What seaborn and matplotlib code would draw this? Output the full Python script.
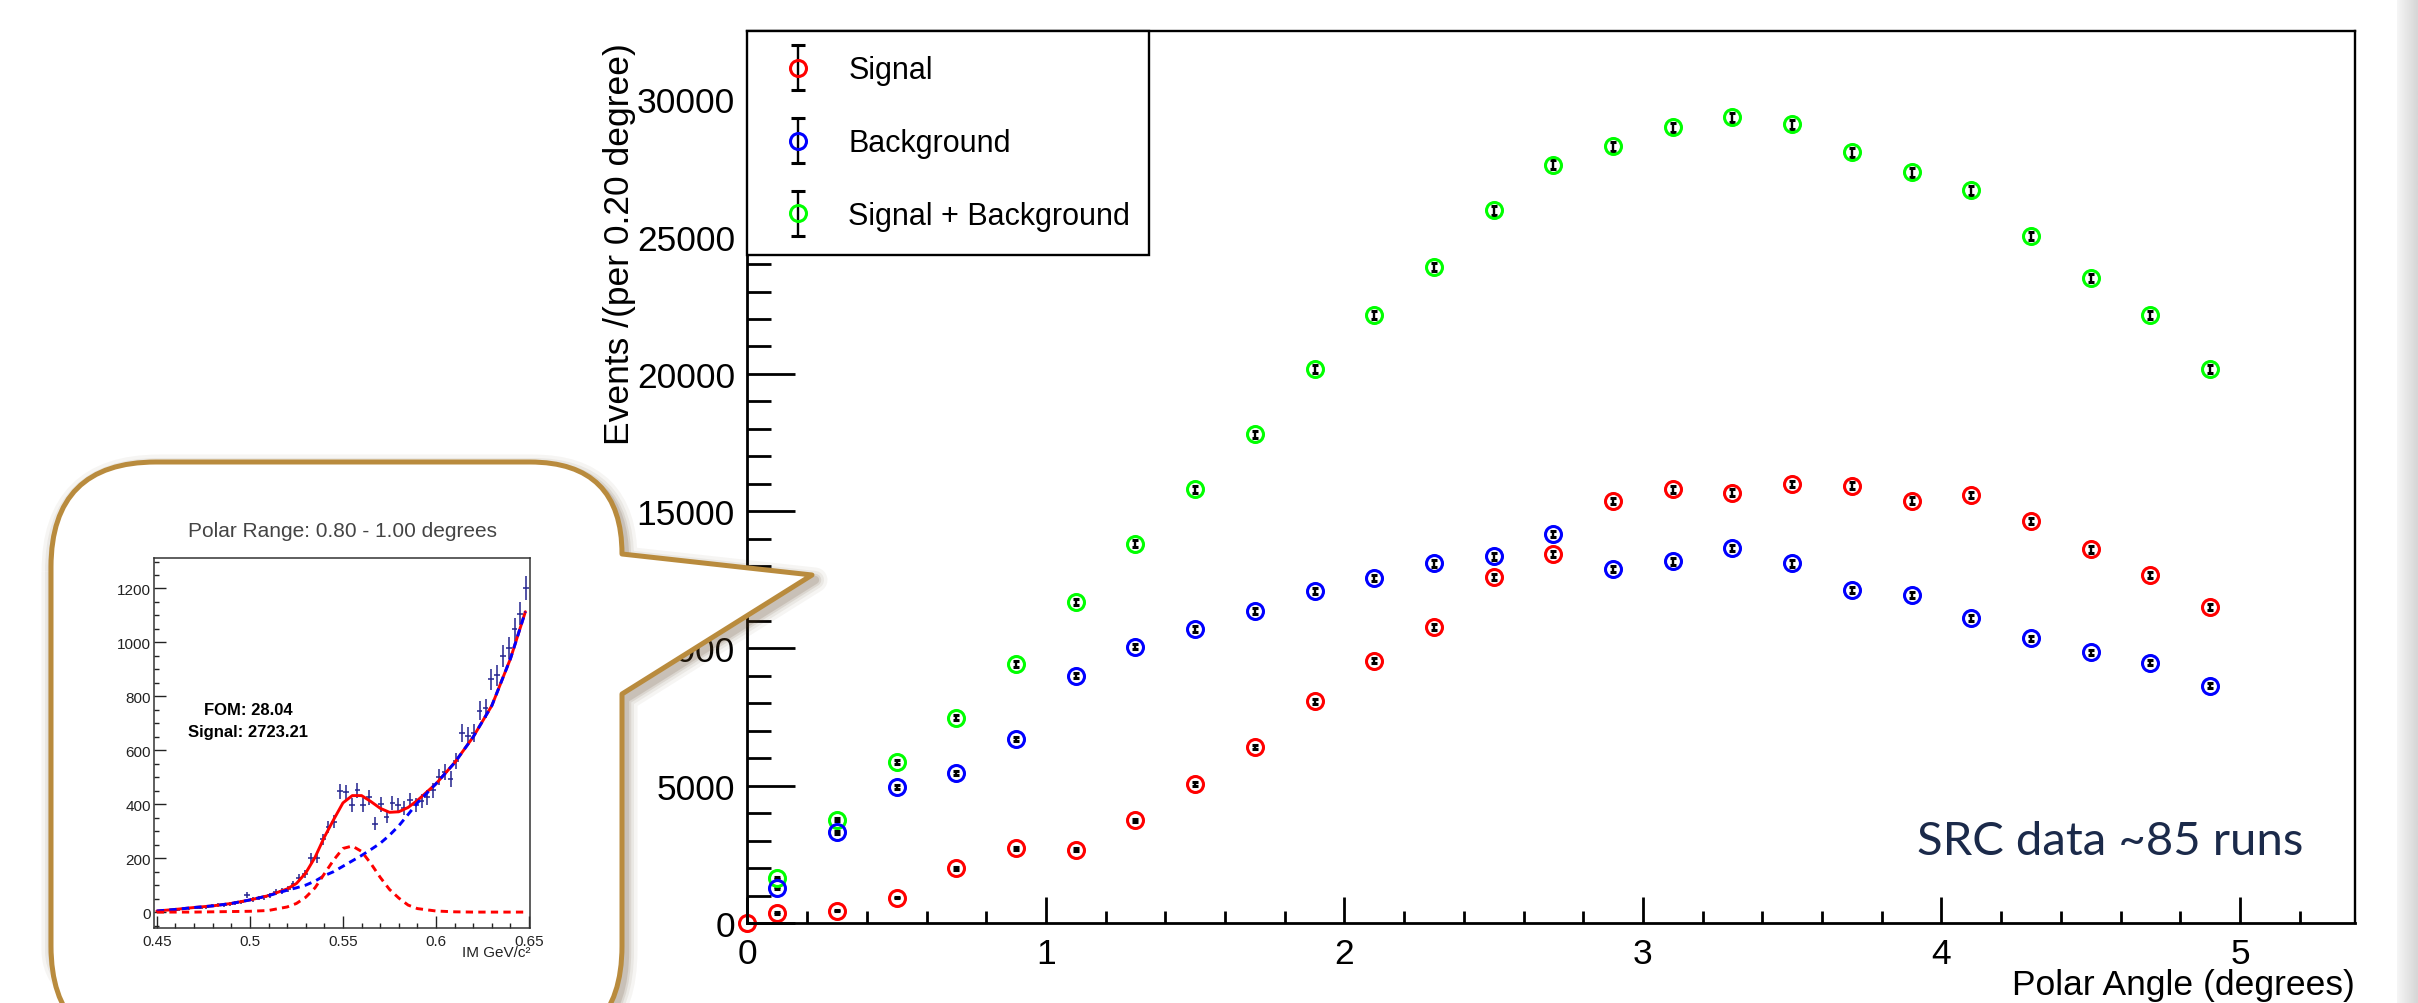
import numpy as np
import pandas as pd
import matplotlib
matplotlib.use("Agg")
import matplotlib.pyplot as plt
import seaborn as sns
from matplotlib.path import Path
from matplotlib.patches import PathPatch
from matplotlib.lines import Line2D
from matplotlib.container import ErrorbarContainer
from matplotlib.legend_handler import HandlerErrorbar
from matplotlib.ticker import MultipleLocator

# ---- main plot: yields per 0.2 degree polar-angle bin
sig_angle = [0.0, 0.1, 0.3, 0.5, 0.7, 0.9, 1.1, 1.3, 1.5, 1.7, 1.9, 2.1, 2.3,
             2.5, 2.7, 2.9, 3.1, 3.3, 3.5, 3.7, 3.9, 4.1, 4.3, 4.5, 4.7, 4.9]
sig_events = [0, 364, 449, 923, 1991, 2720, 2670, 3740, 5074, 6410, 8073, 9554, 10780,
              12589, 13439, 15370, 15793, 15680, 15989, 15927, 15380, 15588, 14641,
              13609, 12663, 11520]
sig_err = [0, 19, 21, 30, 45, 52, 52, 61, 71, 80, 90, 98, 104,
           112, 116, 124, 126, 125, 126, 126, 124, 125, 121, 117, 113, 107]

bkg_angle = [0.1, 0.3, 0.5, 0.7, 0.9, 1.1, 1.3, 1.5, 1.7, 1.9, 2.1, 2.3,
             2.5, 2.7, 2.9, 3.1, 3.3, 3.5, 3.7, 3.9, 4.1, 4.3, 4.5, 4.7, 4.9]
bkg_events = [1263, 3302, 4953, 5475, 6701, 9007, 10064, 10707, 11374, 12078, 12577, 13099,
              13354, 14167, 12893, 13170, 13669, 13099, 12128, 11946, 11096, 10368, 9858,
              9481, 8644]
bkg_err = [36, 57, 70, 74, 82, 95, 100, 103, 107, 110, 112, 114,
           116, 119, 114, 115, 117, 114, 110, 109, 105, 102, 99, 97, 93]

sum_angle = [0.1, 0.3, 0.5, 0.7, 0.9, 1.1, 1.3, 1.5, 1.7, 1.9, 2.1, 2.3,
             2.5, 2.7, 2.9, 3.1, 3.3, 3.5, 3.7, 3.9, 4.1, 4.3, 4.5, 4.7, 4.9]
sum_events = [1639, 3763, 5875, 7478, 9433, 11702, 13815, 15793, 17798, 20177, 22154, 23892,
              25955, 27617, 28297, 28977, 29342, 29096, 28066, 27350, 26696, 25021, 23491,
              22154, 20177]
sum_err = [40, 61, 77, 86, 97, 108, 118, 126, 133, 142, 149, 155,
           161, 166, 168, 170, 171, 171, 168, 165, 163, 158, 153, 149, 142]

# ---- inset: invariant mass spectrum for 0.80 - 1.00 degrees
im_center = [0.4516, 0.4547, 0.4578, 0.4609, 0.4641, 0.4672, 0.4703, 0.4734, 0.4766, 0.4797,
             0.4828, 0.4859, 0.4891, 0.4922, 0.4953, 0.4984, 0.5016, 0.5047, 0.5078, 0.5109,
             0.5141, 0.5172, 0.5203, 0.5234, 0.5266, 0.5297, 0.5328, 0.5359, 0.5391, 0.5422,
             0.5453, 0.5484, 0.5516, 0.5547, 0.5578, 0.5609, 0.5641, 0.5672, 0.5703, 0.5734,
             0.5766, 0.5797, 0.5828, 0.5859, 0.5891, 0.5922, 0.5953, 0.5984, 0.6016, 0.6047,
             0.6078, 0.6109, 0.6141, 0.6172, 0.6203, 0.6234, 0.6266, 0.6297, 0.6328, 0.6359,
             0.6391, 0.6422, 0.6453, 0.6484]
im_counts = [4, 6, 9, 8, 12, 14, 15, 17, 18, 24,
             26, 25, 30, 33, 38, 64, 48, 52, 55, 62,
             73, 77, 85, 103, 125, 140, 200, 200, 270, 315,
             335, 448, 444, 397, 451, 397, 425, 328, 399, 354,
             405, 397, 386, 416, 397, 412, 425, 451, 502, 518,
             493, 560, 663, 653, 663, 747, 756, 863, 879, 949,
             979, 1049, 1107, 1201]
im_err = [3, 3, 4, 4, 5, 5, 5, 5, 6, 6,
          7, 7, 7, 8, 8, 10, 9, 9, 10, 10,
          11, 11, 12, 13, 15, 15, 18, 18, 21, 23,
          24, 28, 27, 26, 28, 26, 27, 24, 26, 25,
          26, 26, 26, 27, 26, 26, 27, 28, 29, 30,
          29, 31, 34, 33, 34, 36, 36, 38, 39, 40,
          41, 42, 43, 45]
im_halfbin = 0.0015625

fit_x = [0.45, 0.46, 0.47, 0.48, 0.49, 0.50, 0.51, 0.52, 0.525, 0.53, 0.535, 0.54, 0.545,
         0.55, 0.555, 0.56, 0.565, 0.57, 0.575, 0.58, 0.585, 0.59, 0.60, 0.61, 0.62, 0.63,
         0.64, 0.648]
fit_total = [4, 10, 17, 23, 32, 45, 61, 86, 106, 145, 203, 278, 343,
             405, 432, 432, 410, 385, 370, 372, 388, 414, 476, 554, 650, 766,
             940, 1114]
fit_bkg = [4, 10, 17, 23, 32, 45, 61, 81, 90, 100, 115, 135, 150,
           170, 190, 210, 232, 255, 285, 320, 362, 405, 476, 554, 650, 766,
           940, 1114]
fit_sig = [0, 0, 0, 1, 2, 3, 6, 19, 32, 55, 90, 142, 193,
           236, 245, 225, 180, 129, 84, 52, 26, 13, 4, 1, 0, 0,
           0, 0]

sns.set_theme(style="ticks")
plt.rcParams["font.family"] = ["Liberation Sans", "DejaVu Sans"]
plt.rcParams["text.color"] = "black"
plt.rcParams["axes.labelcolor"] = "black"
plt.rcParams["xtick.color"] = "black"
plt.rcParams["ytick.color"] = "black"

fig = plt.figure(figsize=(24.18, 10.04), dpi=100)
fig.patch.set_facecolor("white")

# ---------------- main axes ----------------
ax = fig.add_axes([0.3091, 0.0797, 0.6648, 0.8884], zorder=1)
ax.set_facecolor("white")

series = [
    (sum_angle, sum_events, sum_err, "#00ff00", "Signal + Background"),
    (sig_angle, sig_events, sig_err, "#ff0000", "Signal"),
    (bkg_angle, bkg_events, bkg_err, "#0000ff", "Background"),
]
handles = {}
for x, y, e, c, lab in series:
    h = ax.errorbar(x, y, yerr=e, fmt="o", ms=11.5, mfc="none", mec=c, mew=2.2,
                    ecolor="black", elinewidth=1.7, capsize=2.3, capthick=1.7, label=lab)
    h[0].set_clip_on(False)
    handles[lab] = h

ax.set_xlim(0, 5.385)
ax.set_ylim(0, 32490)
ax.xaxis.set_major_locator(MultipleLocator(1))
ax.xaxis.set_minor_locator(MultipleLocator(0.2))
ax.yaxis.set_major_locator(MultipleLocator(5000))
ax.yaxis.set_minor_locator(MultipleLocator(1000))
ax.tick_params(axis="both", which="both", direction="in", top=False, right=False,
               width=2.0, labelsize=25.5, colors="black")
ax.tick_params(axis="y", which="major", length=34.5, pad=9)
ax.tick_params(axis="y", which="minor", length=17)
ax.tick_params(axis="x", which="major", length=18.7, pad=10)
ax.tick_params(axis="x", which="minor", length=8.6)
for s in ax.spines.values():
    s.set_color("black")
    s.set_linewidth(1.7)
ax.spines["left"].set_linewidth(2.0)
ax.spines["bottom"].set_linewidth(2.0)

ax.set_xlabel("Polar Angle (degrees)", fontsize=25.5, loc="right")
ax.xaxis.set_label_coords(1.0, -0.051)
ax.set_ylabel("Events /(per 0.20 degree)", fontsize=25.5, loc="top")
ax.yaxis.set_label_coords(-0.069, 0.988)

ax.text(0.968, 0.0774, "SRC data ~85 runs", transform=ax.transAxes, ha="right",
        va="baseline", fontsize=34, color="#1b2a4a", family=["Lato", "DejaVu Sans"])


def cap_update(leg_h, orig_h):
    leg_h.update_from(orig_h)
    if isinstance(leg_h, Line2D) and orig_h.get_marker() == "_":
        leg_h.set_markersize(10)


order = ["Signal", "Background", "Signal + Background"]
leg = ax.legend([handles[k] for k in order], order, loc="upper left",
                bbox_to_anchor=(0, 0.7486, 0.25, 0.2514), mode="expand", borderaxespad=0,
                fontsize=22, borderpad=0.8, labelspacing=1.4, handlelength=1.7,
                handletextpad=0.8, fancybox=False, framealpha=1, edgecolor="black",
                handler_map={ErrorbarContainer: HandlerErrorbar(yerr_size=0.73,
                                                                update_func=cap_update)})
leg.get_frame().set_linewidth(1.7)

# ---------------- overlay: callout bubble + page edge ----------------
ov = fig.add_axes([0, 0, 1, 1], zorder=5)
ov.set_facecolor("none")
ov.axis("off")

L, R, T, B, r, rtr = 51, 622, 463, 1052, 105, 92
verts = [(L, T + r), (L, T), (L + r, T), (R - rtr, T), (R, T), (R, T + rtr),
         (812, 576), (R, 695), (R, B - r), (R, B), (R - r, B), (L + r, B), (L, B),
         (L, B - r), (L, T + r)]
codes = [Path.MOVETO, Path.CURVE3, Path.CURVE3, Path.LINETO, Path.CURVE3, Path.CURVE3,
         Path.LINETO, Path.LINETO, Path.LINETO, Path.CURVE3, Path.CURVE3, Path.LINETO,
         Path.CURVE3, Path.CURVE3, Path.CLOSEPOLY]
bubble = Path(verts, codes)
shadow = Path([(vx + 3, vy + 5) for vx, vy in verts], codes)
for lw, a in [(18, 0.05), (13, 0.07), (9, 0.10), (6, 0.14)]:
    ov.add_patch(PathPatch(shadow, fill=False, edgecolor="#5a4020", lw=lw, alpha=a,
                           joinstyle="round"))
ov.add_patch(PathPatch(bubble, facecolor="white", edgecolor="#b98b3d", lw=3.6,
                       joinstyle="round"))

edge = np.linspace(0.96, 0.84, 20).reshape(1, -1)
ov.imshow(edge, extent=[2397, 2418, 1004, 0], cmap="gray", vmin=0, vmax=1, aspect="auto")
ov.set_xlim(0, 2418)
ov.set_ylim(1004, 0)

# ---------------- inset ----------------
axi = fig.add_axes([0.0637, 0.0747, 0.1555, 0.3685], zorder=10)
axi.set_facecolor("white")
axi.errorbar(im_center, im_counts, yerr=im_err, xerr=im_halfbin, fmt="none",
             ecolor="#23238e", elinewidth=1.1)
fit = pd.DataFrame({"im": fit_x, "total": fit_total, "bkg": fit_bkg, "sig": fit_sig})
sns.lineplot(data=fit, x="im", y="total", ax=axi, color="#ff0000", lw=2.1)
sns.lineplot(data=fit, x="im", y="bkg", ax=axi, color="#0000ff", lw=2.1,
             linestyle=(0, (2.5, 1.8)))
sns.lineplot(data=fit, x="im", y="sig", ax=axi, color="#ff0000", lw=2.1,
             linestyle=(0, (2.5, 1.8)))
axi.set_xlim(0.4485, 0.6505)
axi.set_ylim(-59, 1313)
axi.set_xticks([0.45, 0.5, 0.55, 0.6, 0.65], ["0.45", "0.5", "0.55", "0.6", "0.65"])
axi.set_yticks([0, 200, 400, 600, 800, 1000, 1200])
axi.xaxis.set_minor_locator(MultipleLocator(0.01))
axi.yaxis.set_minor_locator(MultipleLocator(50))
axi.tick_params(axis="both", which="both", direction="in", top=False, right=False,
                width=1.0, labelsize=11, colors="#222222")
axi.tick_params(axis="both", which="major", length=8.3)
axi.tick_params(axis="both", which="minor", length=3.8)
axi.tick_params(axis="y", which="major", pad=2)
axi.tick_params(axis="x", which="major", pad=4)
for s in axi.spines.values():
    s.set_color("#333333")
    s.set_linewidth(1.1)
axi.set_ylabel("")
axi.set_xlabel("IM GeV/c²", fontsize=11, loc="right", color="#222222")
axi.xaxis.set_label_coords(1.0, -0.046)
axi.set_title("Polar Range: 0.80 - 1.00 degrees", fontsize=15, color="#444444", pad=16)
axi.text(0.4989, 753, "FOM: 28.04", ha="center", va="center", fontsize=12, fontweight="bold")
axi.text(0.4989, 670, "Signal: 2723.21", ha="center", va="center", fontsize=12,
         fontweight="bold")

fig.savefig("out.png", dpi=100, facecolor="white")
